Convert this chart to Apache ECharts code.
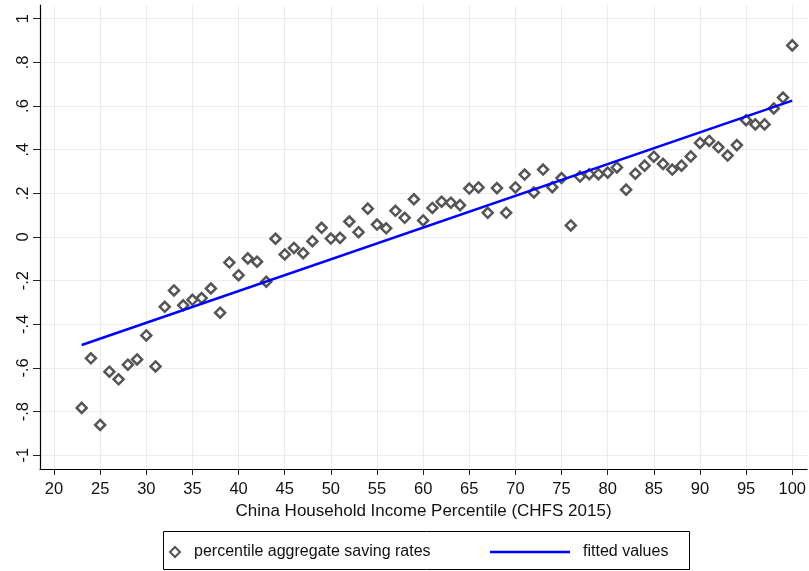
<!DOCTYPE html>
<html>
<head>
    <meta charset="utf-8">
    <title>Saving rates by income percentile</title>
    <script src="https://cdn.jsdelivr.net/npm/echarts@6/dist/echarts.min.js"></script>
    <style>
        html, body { margin: 0; padding: 0; background: #fff; }
        #container { width: 809px; height: 571px; }
    </style>
</head>
<body>
<div id="container"></div>
<script type="text/javascript">
// percentile (x) and aggregate saving rate (y)
var percentiles = [23, 24, 25, 26, 27, 28, 29, 30, 31, 32, 33, 34, 35, 36, 37, 38, 39, 40,
    41, 42, 43, 44, 45, 46, 47, 48, 49, 50, 51, 52, 53, 54, 55, 56, 57, 58, 59, 60,
    61, 62, 63, 64, 65, 66, 67, 68, 69, 70, 71, 72, 73, 74, 75, 76, 77, 78, 79, 80,
    81, 82, 83, 84, 85, 86, 87, 88, 89, 90, 91, 92, 93, 94, 95, 96, 97, 98, 99, 100];
var savingRates = [-0.783, -0.556, -0.861, -0.617, -0.652, -0.585, -0.561, -0.451, -0.593, -0.32,
    -0.245, -0.313, -0.288, -0.28, -0.236, -0.347, -0.117, -0.175, -0.098, -0.113,
    -0.205, -0.008, -0.08, -0.05, -0.074, -0.019, 0.042, -0.007, -0.004, 0.071,
    0.022, 0.13, 0.057, 0.04, 0.12, 0.088, 0.173, 0.076, 0.133, 0.162,
    0.157, 0.146, 0.222, 0.227, 0.111, 0.224, 0.111, 0.227, 0.286, 0.204,
    0.309, 0.228, 0.27, 0.053, 0.277, 0.288, 0.288, 0.295, 0.319, 0.217,
    0.29, 0.327, 0.368, 0.335, 0.309, 0.327, 0.369, 0.431, 0.44, 0.411,
    0.373, 0.421, 0.535, 0.516, 0.516, 0.589, 0.639, 0.878];

// fitted line end points
var fitX = [23, 100];
var fitY = [-0.495, 0.625];

var xTicks = [20, 25, 30, 35, 40, 45, 50, 55, 60, 65, 70, 75, 80, 85, 90, 95, 100];
var yTicks = [-1, -0.8, -0.6, -0.4, -0.2, 0, 0.2, 0.4, 0.6, 0.8, 1];
var yTickLabels = ['-1', '-.8', '-.6', '-.4', '-.2', '0', '.2', '.4', '.6', '.8', '1'];

var scatterName = 'percentile aggregate saving rates';
var fitName = 'fitted values';

var scatterData = percentiles.map(function (p, i) { return [p, savingRates[i]]; });
var fitData = fitX.map(function (p, i) { return [p, fitY[i]]; });

var font = '"Liberation Sans", Arial, Helvetica, sans-serif';
var gridLine = { show: true, lineStyle: { color: '#ececec', width: 1 } };

var dom = document.getElementById("container");
var myChart = echarts.init(dom, null, { renderer: 'canvas' });
var option = {
    animation: false,
    backgroundColor: '#fff',
    textStyle: { fontFamily: font },
    grid: { left: 40, right: 2, top: 5, bottom: 102 },
    xAxis: {
        type: 'value',
        min: 18.48,
        max: 101.6,
        name: 'China Household Income Percentile (CHFS 2015)',
        nameLocation: 'middle',
        nameGap: 34,
        nameTextStyle: { fontFamily: font, fontSize: 17, color: '#111' },
        axisLine: { show: true, onZero: false, lineStyle: { color: '#000', width: 1.2 } },
        axisTick: { show: true, length: 6, customValues: xTicks, lineStyle: { color: '#222' } },
        axisLabel: { customValues: xTicks, margin: 12, fontFamily: font, fontSize: 16.5, color: '#111' },
        splitLine: gridLine
    },
    yAxis: {
        type: 'value',
        min: -1.063,
        max: 1.063,
        axisLine: { show: true, onZero: false, lineStyle: { color: '#000', width: 1.2 } },
        axisTick: { show: true, length: 7, customValues: yTicks, lineStyle: { color: '#222' } },
        axisLabel: {
            customValues: yTicks,
            rotate: 90,
            margin: 8,
            fontFamily: font,
            fontSize: 16.5,
            color: '#111',
            formatter: function (v) {
                var i = yTicks.findIndex(function (t) { return Math.abs(t - v) < 1e-6; });
                return i >= 0 ? yTickLabels[i] : '';
            }
        },
        splitLine: gridLine
    },
    legend: [
        {
            data: [{ name: scatterName, icon: 'diamond' }],
            left: 169,
            top: 544,
            padding: 0,
            itemWidth: 10,
            itemHeight: 10,
            textStyle: { fontFamily: font, fontSize: 16, color: '#111', padding: [0, 0, 0, 9] }
        },
        {
            data: [{ name: fitName, icon: 'rect' }],
            left: 490,
            top: 544,
            padding: 0,
            itemWidth: 80,
            itemHeight: 2.5,
            itemStyle: { color: '#0000ff' },
            textStyle: { fontFamily: font, fontSize: 16, color: '#111', padding: [0, 0, 0, 8] }
        }
    ],
    graphic: [
        {
            type: 'rect',
            left: 161,
            top: 529,
            shape: { width: 526, height: 38 },
            style: { fill: 'none', stroke: '#000', lineWidth: 1 },
            silent: true
        }
    ],
    series: [
        {
            name: scatterName,
            type: 'scatter',
            symbol: 'diamond',
            symbolSize: 10,
            itemStyle: { color: '#fff', borderColor: '#555', borderWidth: 2.5, opacity: 1 },
            data: scatterData
        },
        {
            name: fitName,
            type: 'line',
            symbol: 'none',
            lineStyle: { color: '#0000ff', width: 2.5 },
            itemStyle: { color: '#0000ff' },
            data: fitData
        }
    ]
};
myChart.setOption(option, true);
</script>
</body>
</html>
